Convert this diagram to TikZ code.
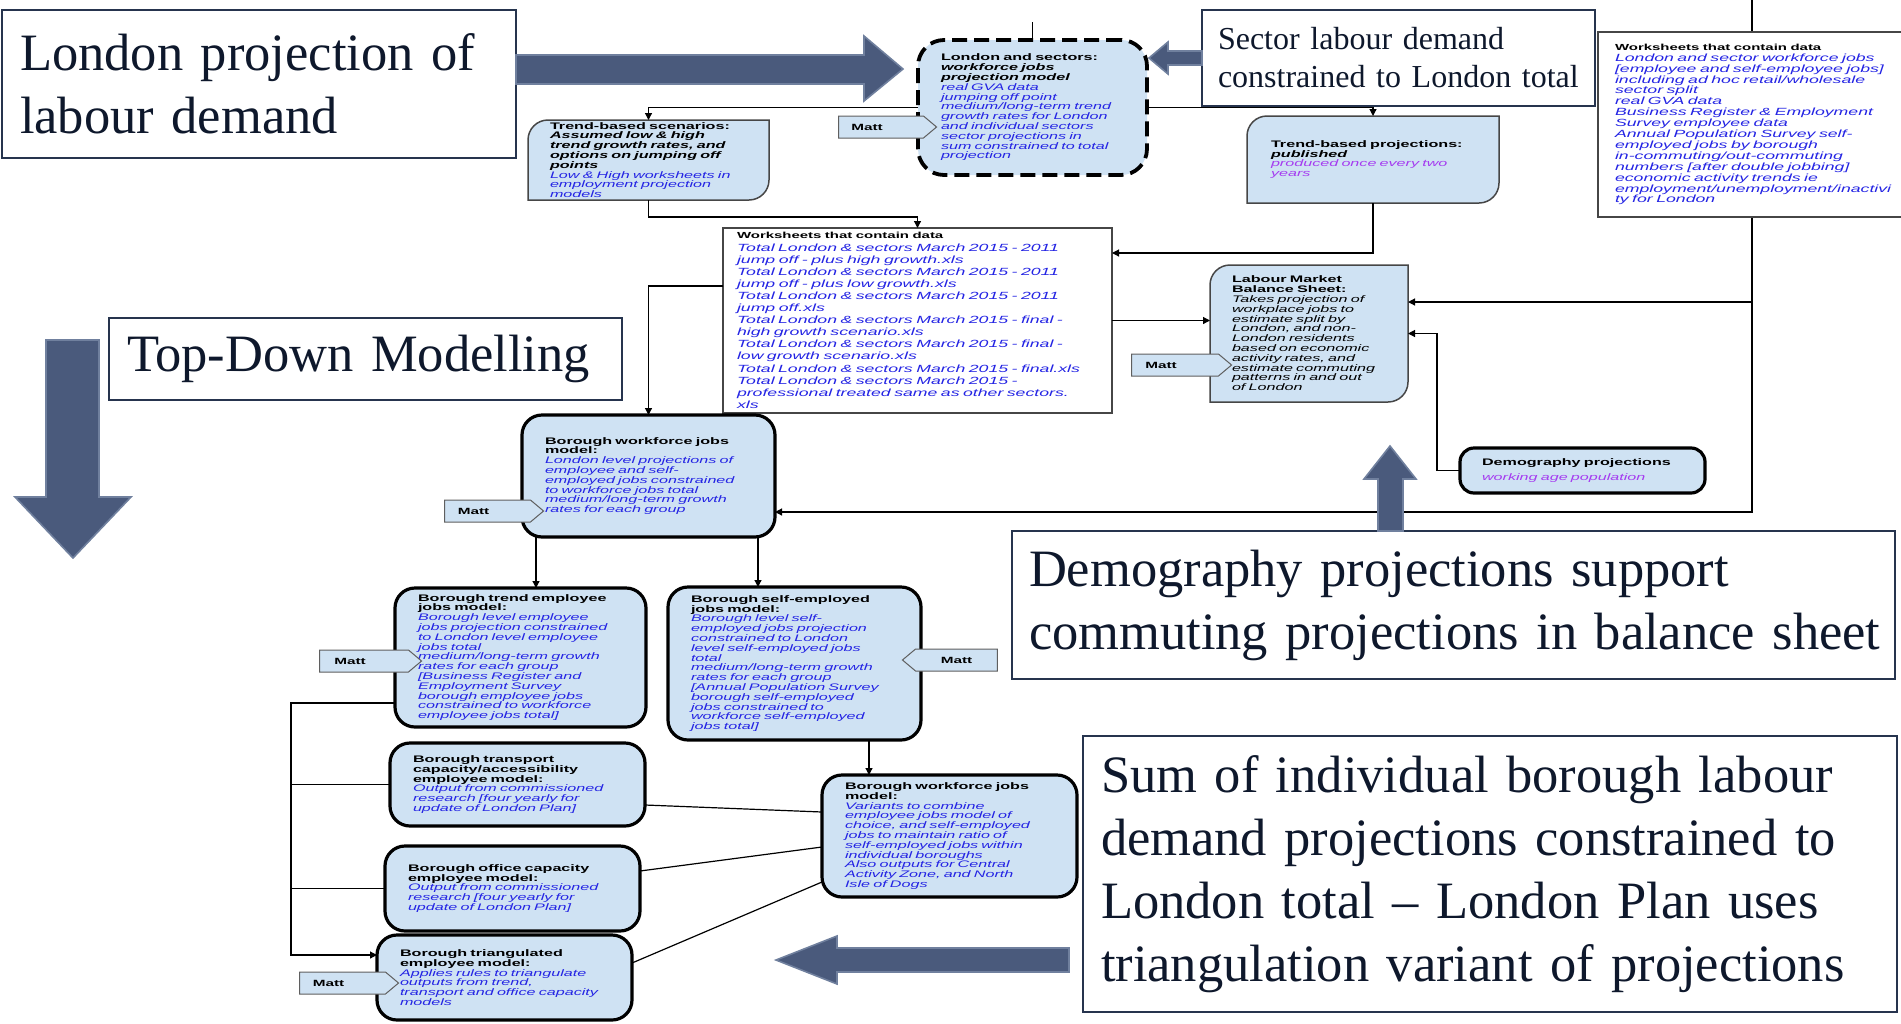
\documentclass[tikz,border=0pt]{standalone}
\usepackage{fontspec}
\setmainfont{Liberation Serif}
\newfontfamily\boxfont[FakeStretch=1.7]{Liberation Sans}
\usetikzlibrary{arrows.meta,shapes.symbols,backgrounds}

\definecolor{boxblue}{RGB}{207,226,243}
\definecolor{txtblue}{RGB}{36,36,228}
\definecolor{txtviolet}{RGB}{165,60,240}
\definecolor{navytext}{RGB}{14,24,44}
\definecolor{navyline}{RGB}{38,52,78}
\definecolor{slatefill}{RGB}{74,90,124}
\definecolor{slateedge}{RGB}{112,128,158}
\definecolor{cardline}{RGB}{70,70,70}
\definecolor{taggray}{RGB}{95,95,95}

\newcommand{\boldit}[1]{\textbf{\textit{#1}}}
\newcommand{\blu}{\color{txtblue}\itshape}
\newcommand{\vio}{\color{txtviolet}\itshape}
\newcommand{\owner}{Matt\hspace*{28pt}}
\newcommand{\cardpath}[1]{%
  \filldraw[fill=boxblue,draw=cardline,line width=1.5pt]
    (#1.south west) -- ([yshift=-20pt]#1.north west)
    arc[start angle=180,end angle=90,radius=20pt] -- (#1.north east)
    -- ([yshift=20pt]#1.south east)
    arc[start angle=0,end angle=-90,radius=20pt] -- cycle;}

\tikzset{
  wire/.style={draw=black,line width=1.2pt},
  wirearrow/.style={wire,-{Triangle[length=7pt,width=7pt]}},
  smalltext/.style={font=\boxfont\fontsize{9.5}{9.8}\selectfont,align=left,inner xsep=0pt,inner ysep=2pt,outer sep=0pt},
  roundbox/.style={smalltext,draw=black,line width=3.2pt,fill=boxblue,rounded corners=20pt},
  dashbox/.style={roundbox,line width=3.8pt,rounded corners=26pt,dash pattern=on 15pt off 7pt},
  sheetbox/.style={smalltext,draw=cardline,line width=1.5pt,fill=white,font=\boxfont\fontsize{10.4}{10.9}\selectfont},
  tag/.style={shape=signal,signal to=east,signal pointer angle=80,draw=taggray,line width=1pt,fill=boxblue,minimum height=22pt,inner sep=0pt,font=\boxfont\bfseries\fontsize{9}{9}\selectfont},
  bigtext/.style={draw=navyline,line width=1.8pt,fill=white,text=navytext,align=left,inner xsep=18pt,inner ysep=0pt,outer sep=0pt,font=\fontsize{52.5}{63}\selectfont},
  bigarrow/.style={fill=slatefill,draw=slateedge,line width=1.6pt}
}

\begin{document}
\begin{tikzpicture}[x=1pt,y=-1pt]
\useasboundingbox (0,0) rectangle (1901,1023);

% captions
\node[bigtext,text width=478pt,minimum width=514pt,minimum height=148pt] (lp) at (259,84) {\mbox{London projection of}\\\mbox{labour demand}};
\node[bigtext,inner xsep=16pt,text width=361pt,minimum width=393pt,minimum height=96pt,font=\fontsize{32}{38}\selectfont] (sl) at (1398.5,58) {\mbox{Sector labour demand}\\\mbox{constrained to London total}};
\node[bigtext,text width=477pt,minimum width=513pt,minimum height=82pt] (td) at (365.5,359) {\mbox{Top-Down Modelling}};
\node[bigtext,inner xsep=17pt,text width=849pt,minimum width=883pt,minimum height=148pt] (dp) at (1453.5,605) {\mbox{Demography projections support}\\\mbox{commuting projections in balance sheet}};
\node[bigtext,text width=778pt,minimum width=814pt,minimum height=276pt] (sb) at (1490,874) {\mbox{Sum of individual borough labour}\\\mbox{demand projections constrained to}\\\mbox{London total – London Plan uses}\\\mbox{triangulation variant of projections}};

% London level
\node[dashbox,text width=183pt,minimum width=229pt,minimum height=135pt] (lsm) at (1032.5,107.5) {\textbf{London and sectors:}\\ \boldit{workforce jobs}\\ \boldit{projection model}\\ \blu real GVA data\\ jumping off point\\ medium/long-term trend\\ growth rates for London\\ and individual sectors\\ sector projections in\\ sum constrained to total\\ projection};
\node[smalltext,text width=197pt,minimum width=241pt,minimum height=80pt] (scen) at (648.5,160) {\textbf{Trend-based scenarios:}\\ \boldit{Assumed low \& high}\\ \boldit{trend growth rates, and}\\ \boldit{options on jumping off}\\ \boldit{points}\\ \blu Low \& High worksheets in\\ employment projection\\ models};
\node[smalltext,text width=204pt,minimum width=252pt,minimum height=87pt] (tbp) at (1373,159.5) {\textbf{Trend-based projections:}\\ \boldit{published}\\ \vio produced once every two\\ years};
\node[sheetbox,text width=288pt,minimum width=322pt,minimum height=185pt] (wsr) at (1759,124.5) {\textbf{\fontsize{8.8}{10.9}\selectfont Worksheets that contain data}\\ \blu London and sector workforce jobs\\ {[}employee and self-employee jobs]\\ including ad hoc retail/wholesale\\ sector split\\ real GVA data\\ Business Register \& Employment\\ Survey employee data\\ Annual Population Survey self-\\ employed jobs by borough\\ in-commuting/out-commuting\\ numbers {[}after double jobbing]\\ economic activity trends ie\\ employment/unemployment/inactivi\\ ty for London};
\node[sheetbox,inner ysep=1pt,text width=361pt,minimum width=389pt,minimum height=185pt,font=\boxfont\fontsize{10.4}{12.1}\selectfont] (wsm) at (917.5,320.5) {\textbf{\fontsize{8.8}{12.1}\selectfont Worksheets that contain data}\\ \blu Total London \& sectors March 2015 - 2011\\ jump off - plus high growth.xls\\ Total London \& sectors March 2015 - 2011\\ jump off - plus low growth.xls\\ Total London \& sectors March 2015 - 2011\\ jump off.xls\\ Total London \& sectors March 2015 - final -\\ high growth scenario.xls\\ Total London \& sectors March 2015 - final -\\ low growth scenario.xls\\ Total London \& sectors March 2015 - final.xls\\ Total London \& sectors March 2015 -\\ professional treated same as other sectors.\\ xls};
\node[smalltext,text width=154pt,minimum width=198pt,minimum height=137pt] (lmb) at (1309,333.5) {\textbf{Labour Market}\\ \textbf{Balance Sheet:}\\ \itshape Takes projection of\\ workplace jobs to\\ estimate split by\\ London, and non-\\ London residents\\ based on economic\\ activity rates, and\\ estimate commuting\\ patterns in and out\\ of London};
\node[roundbox,rounded corners=14pt,text width=201pt,minimum width=245pt,minimum height=45pt] (demo) at (1582.5,470.5) {\textbf{Demography projections}\\[5pt] \vio working age population};

% borough level
\node[roundbox,text width=207pt,minimum width=253pt,minimum height=122pt] (bwj) at (648.5,476) {\textbf{Borough workforce jobs}\\ \textbf{model:}\\ \blu London level projections of\\ employee and self-\\ employed jobs constrained\\ to workforce jobs total\\ medium/long-term growth\\ rates for each group};
\node[roundbox,text width=205pt,minimum width=251pt,minimum height=139pt] (bte) at (520.5,657.5) {\textbf{Borough trend employee}\\ \textbf{jobs model:}\\ \blu Borough level employee\\ jobs projection constrained\\ to London level employee\\ jobs total\\ medium/long-term growth\\ rates for each group\\ {[}Business Register and\\ Employment Survey\\ borough employee jobs\\ constrained to workforce\\ employee jobs total]};
\node[roundbox,text width=207pt,minimum width=253pt,minimum height=153pt] (bse) at (794.5,663.5) {\textbf{Borough self-employed}\\ \textbf{jobs model:}\\ \blu Borough level self-\\ employed jobs projection\\ constrained to London\\ level self-employed jobs\\ total\\ medium/long-term growth\\ rates for each group\\ {[}Annual Population Survey\\ borough self-employed\\ jobs constrained to\\ workforce self-employed\\ jobs total]};
\node[roundbox,text width=209pt,minimum width=255pt,minimum height=83pt] (btc) at (517.5,784.5) {\textbf{Borough transport}\\ \textbf{capacity/accessibility}\\ \textbf{employee model:}\\ \blu Output from commissioned\\ research {[}four yearly for\\ update of London Plan]};
\node[roundbox,text width=209pt,minimum width=255pt,minimum height=85pt] (boc) at (512.5,888.5) {\textbf{Borough office capacity}\\ \textbf{employee model:}\\ \blu Output from commissioned\\ research {[}four yearly for\\ update of London Plan]};
\node[roundbox,text width=209pt,minimum width=255pt,minimum height=85pt] (btr) at (504.5,977.5) {\textbf{Borough triangulated}\\ \textbf{employee model:}\\ \blu Applies rules to triangulate\\ outputs from trend,\\ transport and office capacity\\ models};
\node[roundbox,text width=209pt,minimum width=255pt,minimum height=122pt] (bwv) at (949.5,836) {\textbf{Borough workforce jobs}\\ \textbf{model:}\\ \blu Variants to combine\\ employee jobs model of\\ choice, and self-employed\\ jobs to maintain ratio of\\ self-employed jobs within\\ individual boroughs\\ Also outputs for Central\\ Activity Zone, and North\\ Isle of Dogs};

% owner tags
\node[tag,minimum width=98pt] (mA) at (881,127) {\owner};
\node[tag,minimum width=100pt] (mF) at (1175,365) {\owner};
\node[tag,minimum width=99pt] (mH) at (487.5,511) {\owner};
\node[tag,minimum width=102pt] (mI) at (364,661) {\owner};
\node[tag,signal to=west,minimum width=95pt] (mJ) at (956.5,660) {Matt};
\node[tag,minimum width=99pt] (mM) at (342.5,983) {\owner};

% connectors
\coordinate (feedA) at (1032.5,22);
\coordinate (feedR) at (1752,0);
\draw[wire] (feedA) -- (lsm.north);
\draw[wirearrow] (lsm.west) -| (scen.north);
\draw[wirearrow] (lsm.east) -| (tbp.north);
\draw[wirearrow] (scen.south) -- (scen.south |- 0,217) -| (wsm.north);
\draw[wirearrow] (tbp.south) |- (wsm.east |- 0,253);
\draw[wirearrow] (wsm.east) -- (lmb.west |- wsm.east);
\draw[wirearrow] (wsm.west |- 0,286) -| (bwj.north);
\draw[wirearrow] (demo.west) -- ++(-23,0) |- (lmb.east);
\draw[wirearrow] (bwj.south -| 536,0) -- (bte.north -| 536,0);
\draw[wirearrow] (bwj.south -| 758,0) -- (bse.north -| 758,0);
\draw[wirearrow] (bse.south -| 869,0) -- (bwv.north -| 869,0);
\draw[wirearrow] (bte.west |- 0,703) -- (291,703) |- (btr.west |- 0,955);
\draw[wire] (btc.west) -- (btc.west -| 291,0);
\draw[wire] (boc.west) -- (boc.west -| 291,0);
\draw[wire] (btc.east |- 0,805) -- (bwv.west |- 0,812);
\draw[wire] (boc.east |- 0,871) -- (bwv.west |- 0,847);
\draw[wire] (btr.east |- 0,963) -- (bwv.west |- 0,882);
\begin{scope}[on background layer]
  \cardpath{scen}
  \cardpath{tbp}
  \cardpath{lmb}
  \draw[wirearrow] (feedR) |- (bwj.east |- 0,512);
  \draw[wirearrow] (feedR |- 0,302) -- (lmb.east |- 0,302);
\end{scope}

% big arrows
\filldraw[bigarrow] (516,55) -- (864,55) -- (864,36) -- (903,69) -- (864,101) -- (864,84) -- (516,84) -- cycle;
\filldraw[bigarrow] (1202,51) -- (1168,51) -- (1168,42) -- (1149,58) -- (1168,74) -- (1168,65) -- (1202,65) -- cycle;
\filldraw[bigarrow] (46,340) -- (99,340) -- (99,497) -- (131,497) -- (73,558) -- (15,497) -- (46,497) -- cycle;
\filldraw[bigarrow] (1378,531) -- (1378,479) -- (1364,479) -- (1390,446) -- (1416,479) -- (1403,479) -- (1403,531) -- cycle;
\filldraw[bigarrow] (1069,948) -- (837,948) -- (837,936) -- (776,960) -- (837,984) -- (837,972) -- (1069,972) -- cycle;
\end{tikzpicture}
\end{document}
